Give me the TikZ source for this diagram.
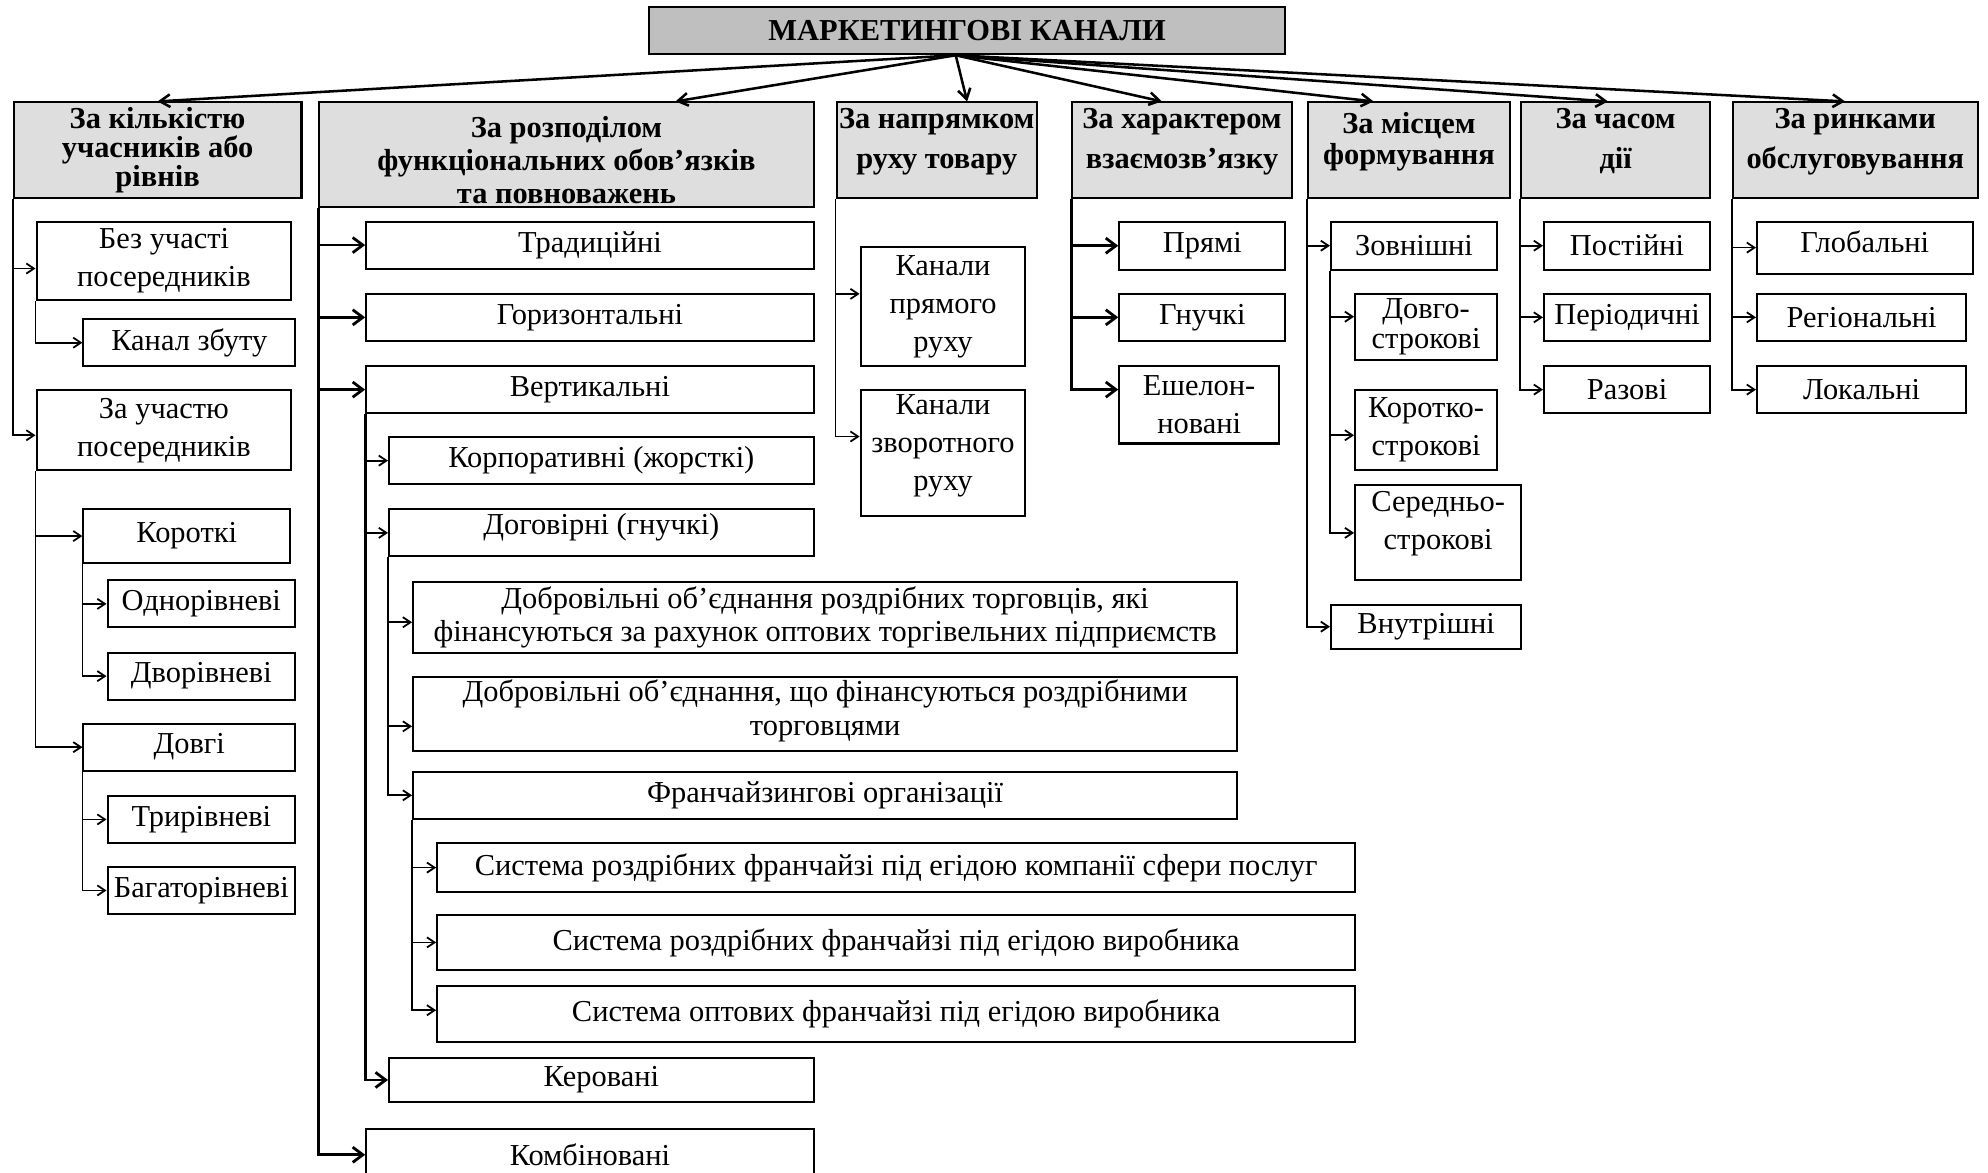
\documentclass[tikz,border=0pt]{standalone}
\usepackage{fontspec}
\setmainfont{Liberation Serif}
\usetikzlibrary{arrows.meta}

% invisible struts to nudge text inside a box
\newcommand\up[1]{\rule[-#1]{0pt}{#1}}
\newcommand\dn[1]{\rule{0pt}{#1}}

\begin{document}
\begin{tikzpicture}[
  x=0.5pt, y=-0.5pt,
  itembox/.style = {draw, line width=0.8pt, anchor=north west, align=center, inner xsep=1pt, inner ysep=1pt, font=\fontsize{12}{15}\selectfont},
  rootbox/.style = {itembox, fill=black!25, font=\fontsize{12}{14}\selectfont\bfseries},
  headbox/.style = {itembox, fill=black!13, font=\fontsize{12}{15.5}\selectfont\bfseries},
  arrow/.style = {line width=0.7pt, -{Straight Barb[length=3pt,width=4pt]}},
  boldarrow/.style = {line width=1.1pt, -{Straight Barb[length=4pt,width=6pt]}},
  fan/.style = {line width=1pt, -{Straight Barb[length=4pt,width=5pt]}}
]
\useasboundingbox (0,0) rectangle (1568,925);
\clip (0,0) rectangle (1568,925);

%--------------------------------------------------
% Root and criteria
%--------------------------------------------------
\node[rootbox, minimum width=251pt, minimum height=18.5pt] (root) at (511,5) {МАРКЕТИНГОВІ КАНАЛИ};

\node[headbox, minimum width=113.5pt, minimum height=37.5pt, font=\fontsize{12}{11.5}\selectfont\bfseries] (h1) at (10,80)
  {За кількістю\\учасників або\\рівнів};
\node[headbox, minimum width=195pt, minimum height=37.5pt, font=\fontsize{12}{13}\selectfont\bfseries] (h2) at (251,80)
  {\dn{13pt}За розподілом\\функціональних обов’язків\\та повноважень};
\node[headbox, minimum width=70pt, minimum height=37.5pt] (h3) at (659,80)
  {За напрямком\\руху товару\up{9pt}};
\node[headbox, minimum width=86.5pt, minimum height=37.5pt] (h4) at (845,80)
  {За характером\\взаємозв’язку\up{9pt}};
\node[headbox, minimum width=79.5pt, minimum height=37.5pt, font=\fontsize{12}{12.5}\selectfont\bfseries] (h5) at (1031,80)
  {За місцем\\формування\up{9pt}};
\node[headbox, minimum width=74.5pt, minimum height=37.5pt] (h6) at (1199,80)
  {За часом\\дії\up{9pt}};
\node[headbox, minimum width=96.5pt, minimum height=37.5pt] (h7) at (1366,80)
  {За ринками\\обслуговування\up{9pt}};

\coordinate (fan) at ([xshift=-4.5pt]root.south);
\draw[fan] (fan) -- (h1.north);
\draw[fan] (fan) -- ([xshift=43pt]h2.north);
\draw[fan] (fan) -- ([xshift=12pt]h3.north);
\draw[fan] (fan) -- ([xshift=-8pt]h4.north);
\draw[fan] (fan) -- ([xshift=-14pt]h5.north);
\draw[fan] (fan) -- ([xshift=-3pt]h6.north);
\draw[fan] (fan) -- ([xshift=-4pt]h7.north);

%--------------------------------------------------
% Number of participants
%--------------------------------------------------
\node[itembox, minimum width=100.5pt, minimum height=31pt] (bez) at (28,174) {Без участі\\посередників};
\node[itembox, minimum width=83.5pt, minimum height=18.5pt] (zbut) at (65,251) {Канал збуту};
\node[itembox, minimum width=100.5pt, minimum height=31.5pt] (zauch) at (28,307) {За участю\\посередників};
\node[itembox, minimum width=81.5pt, minimum height=21pt] (korot) at (65,401) {Короткі};
\node[itembox, minimum width=74pt, minimum height=18.5pt] (odnor) at (84,457) {Однорівневі};
\node[itembox, minimum width=74pt, minimum height=18.5pt] (dvor) at (84,514) {Дворівневі};
\node[itembox, minimum width=83.5pt, minimum height=18.5pt] (dovgi) at (65,570) {Довгі};
\node[itembox, minimum width=74pt, minimum height=18.5pt] (trir) at (84,627) {Трирівневі};
\node[itembox, minimum width=74pt, minimum height=18.5pt] (bagat) at (84,683) {Багаторівневі};

\draw[arrow] (h1.south west) |- ([yshift=-3pt]bez.west);
\draw[arrow] (h1.south west) |- ([yshift=-2pt]zauch.west);
\draw[arrow] (bez.south west) |- (zbut.west);
\draw[arrow] (zauch.south west) |- (korot.west);
\draw[arrow] (zauch.south west) |- (dovgi.west);
\draw[arrow] (korot.south west) |- (odnor.west);
\draw[arrow] (korot.south west) |- (dvor.west);
\draw[arrow] (dovgi.south west) |- (trir.west);
\draw[arrow] (dovgi.south west) |- (bagat.west);

%--------------------------------------------------
% Functions and authority
%--------------------------------------------------
\node[itembox, minimum width=176.5pt, minimum height=18.5pt] (trad) at (288,174) {Традиційні};
\node[itembox, minimum width=176.5pt, minimum height=18.5pt] (horiz) at (288,231) {Горизонтальні};
\node[itembox, minimum width=176.5pt, minimum height=18.5pt] (vert) at (288,288) {Вертикальні};
\node[itembox, minimum width=167.5pt, minimum height=18.5pt] (korp) at (306,344) {Корпоративні (жорсткі)};
\node[itembox, minimum width=167.5pt, minimum height=18.5pt] (dogov) at (306,401) {Договірні (гнучкі)\up{7pt}};
\node[itembox, minimum width=325pt, minimum height=28pt, font=\fontsize{12}{13}\selectfont] (dobr1) at (325,458)
  {Добровільні об’єднання роздрібних торговців, які\\фінансуються за рахунок оптових торгівельних підприємств};
\node[itembox, minimum width=325pt, minimum height=28pt, font=\fontsize{12}{13.5}\selectfont] (dobr2) at (325,533)
  {Добровільні об’єднання, що фінансуються роздрібними\\торговцями\up{5pt}};
\node[itembox, minimum width=325pt, minimum height=18.5pt] (franch) at (325,608) {Франчайзингові організації};
\node[itembox, minimum width=362pt, minimum height=19.5pt] (sys1) at (344,664) {Система роздрібних франчайзі під егідою компанії сфери послуг};
\node[itembox, minimum width=362pt, minimum height=21.5pt] (sys2) at (344,721) {Система роздрібних франчайзі під егідою виробника};
\node[itembox, minimum width=362pt, minimum height=22pt] (sys3) at (344,777) {Система оптових франчайзі під егідою виробника};
\node[itembox, minimum width=167.5pt, minimum height=17pt] (kerov) at (306,834) {Керовані};
\node[itembox, minimum width=176.5pt, minimum height=20pt] (kombi) at (288,890) {Комбіновані};

\draw[boldarrow] (h2.south west) |- (trad.west);
\draw[boldarrow] (h2.south west) |- (horiz.west);
\draw[boldarrow] (h2.south west) |- (vert.west);
\draw[boldarrow] (h2.south west) |- (kombi.west);
\draw[arrow] (vert.south west) |- (korp.west);
\draw[arrow] (vert.south west) |- (dogov.west);
\draw[boldarrow] (vert.south west) |- (kerov.west);
\draw[arrow] (dogov.south west) |- ([yshift=-2pt]dobr1.west);
\draw[arrow] (dogov.south west) |- ([yshift=-5pt]dobr2.west);
\draw[arrow] (dogov.south west) |- (franch.west);
\draw[arrow] (franch.south west) |- (sys1.west);
\draw[arrow] (franch.south west) |- (sys2.west);
\draw[arrow] (franch.south west) |- ([yshift=1.5pt]sys3.west);

%--------------------------------------------------
% Direction of goods flow
%--------------------------------------------------
\node[itembox, minimum width=65pt, minimum height=47pt] (pryam) at (678,194) {Канали\\прямого\\руху};
\node[itembox, minimum width=65pt, minimum height=49.5pt] (zvor) at (678,307) {Канали\\зворотного\\руху\up{8pt}};

\draw[arrow] (h3.south west) |- ([yshift=5pt]pryam.west);
\draw[arrow] (h3.south west) |- ([yshift=6.5pt]zvor.west);

%--------------------------------------------------
% Kind of relationship
%--------------------------------------------------
\node[itembox, minimum width=65.5pt, minimum height=19pt] (pryami) at (882,174) {Прямі};
\node[itembox, minimum width=65.5pt, minimum height=18.5pt] (hnuch) at (882,231) {Гнучкі};
\node[itembox, minimum width=63pt, minimum height=30.5pt] (eshel) at (882,288) {Ешелон-\\новані};

\draw[boldarrow] (h4.south west) |- (pryami.west);
\draw[boldarrow] (h4.south west) |- (hnuch.west);
\draw[boldarrow] (h4.south west) |- ([yshift=6pt]eshel.west);

%--------------------------------------------------
% Place of formation
%--------------------------------------------------
\node[itembox, minimum width=65.5pt, minimum height=19pt] (zovn) at (1049,174) {Зовнішні};
\node[itembox, minimum width=56pt, minimum height=26pt, font=\fontsize{12}{11.5}\selectfont] (dovgo) at (1068,231) {Довго-\\строкові};
\node[itembox, minimum width=56pt, minimum height=31.5pt] (korst) at (1068,307) {Коротко-\\строкові};
\node[itembox, minimum width=65.5pt, minimum height=37.5pt] (sered) at (1068,382) {Середньо-\\строкові\up{10pt}};
\node[itembox, minimum width=75pt, minimum height=17.5pt] (vnutr) at (1049,476) {Внутрішні};

\draw[arrow] (h5.south west) |- (zovn.west);
\draw[arrow] (h5.south west) |- (vnutr.west);
\draw[arrow] (zovn.south west) |- ([yshift=4pt]dovgo.west);
\draw[arrow] (zovn.south west) |- ([yshift=-2pt]korst.west);
\draw[arrow] (zovn.south west) |- (sered.west);

%--------------------------------------------------
% Time of action
%--------------------------------------------------
\node[itembox, minimum width=65.5pt, minimum height=19pt] (post) at (1217,174) {Постійні};
\node[itembox, minimum width=65.5pt, minimum height=18.5pt] (period) at (1217,231) {Періодичні};
\node[itembox, minimum width=65.5pt, minimum height=18.5pt] (razovi) at (1217,288) {Разові};

\draw[arrow] (h6.south west) |- (post.west);
\draw[arrow] (h6.south west) |- (period.west);
\draw[arrow] (h6.south west) |- (razovi.west);

%--------------------------------------------------
% Markets served
%--------------------------------------------------
\node[itembox, minimum width=85pt, minimum height=20.5pt] (glob) at (1385,174) {Глобальні\up{5pt}};
\node[itembox, minimum width=82.5pt, minimum height=18.5pt] (region) at (1385,231) {Регіональні};
\node[itembox, minimum width=82.5pt, minimum height=18.5pt] (lokal) at (1385,288) {Локальні};

\draw[arrow] (h7.south west) |- (glob.west);
\draw[arrow] (h7.south west) |- (region.west);
\draw[arrow] (h7.south west) |- (lokal.west);

\end{tikzpicture}
\end{document}
